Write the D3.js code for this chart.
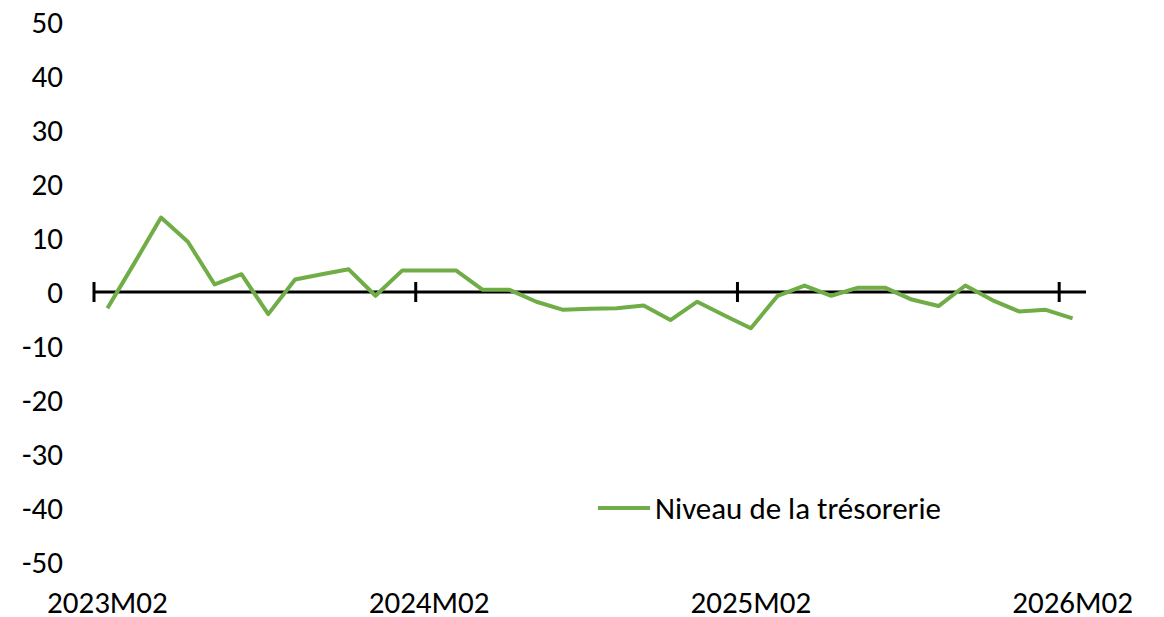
<!DOCTYPE html>
<html>
<head>
<meta charset="utf-8">
<script src="https://cdn.jsdelivr.net/npm/d3@7"></script>
<style>
  body { margin: 0; background: #fff; }
  svg text { font-family: Calibri, Carlito, "Liberation Sans", sans-serif; fill: #000; }
</style>
</head>
<body>
<div id="chart"></div>
<script>
var months = [
    "2023M02","2023M03","2023M04","2023M05","2023M06","2023M07","2023M08","2023M09","2023M10","2023M11","2023M12",
    "2024M01","2024M02","2024M03","2024M04","2024M05","2024M06","2024M07","2024M08","2024M09","2024M10","2024M11","2024M12",
    "2025M01","2025M02","2025M03","2025M04","2025M05","2025M06","2025M07","2025M08","2025M09","2025M10","2025M11","2025M12",
    "2026M01","2026M02"
];
var tresorerie = [
    -3.0, 5.3, 13.8, 9.3, 1.4, 3.3, -4.1, 2.3, 3.3, 4.2, -0.7,
    4.0, 4.0, 4.0, 0.4, 0.4, -1.8, -3.3, -3.1, -3.0, -2.5, -5.2, -1.8,
    -4.3, -6.7, -0.7, 1.2, -0.7, 0.8, 0.8, -1.4, -2.6, 1.2, -1.5, -3.6,
    -3.3, -4.9
];
var yTicks = [50, 40, 30, 20, 10, 0, -10, -20, -30, -40, -50];
var xLabels = ["2023M02", "2024M02", "2025M02", "2026M02"];
var seriesName = "Niveau de la trésorerie";

var width = 1164, height = 617;
var svg = d3.select("#chart").append("svg")
    .attr("width", width)
    .attr("height", height);

var x = d3.scaleBand().domain(months).range([94, 1086]).padding(0);
var y = d3.scaleLinear().domain([-50, 50]).range([562, 22]);
var fontSize = "31px";

// y labels (plain hyphen for negatives, as in the original)
var yAxis = svg.append("g")
    .attr("transform", "translate(63,0)")
    .call(d3.axisLeft(y).tickValues(yTicks).tickSize(0).tickPadding(0)
        .tickFormat(function(d){ return String(d); }));
yAxis.select(".domain").remove();
yAxis.selectAll("text")
    .style("font-size", fontSize)
    .attr("dy", "0.35em");

// x labels (centred on category)
svg.selectAll(".xlab")
    .data(xLabels)
    .enter()
    .append("text")
    .attr("class", "xlab")
    .attr("x", function(d){ return x(d) + x.bandwidth()/2; })
    .attr("y", 613)
    .attr("text-anchor", "middle")
    .style("font-size", fontSize)
    .text(function(d){ return d; });

// zero axis line
svg.append("line")
    .attr("x1", x.range()[0])
    .attr("x2", x.range()[1])
    .attr("y1", y(0))
    .attr("y2", y(0))
    .style("stroke", "#000")
    .style("stroke-width", 3);

// tick marks between categories
svg.selectAll(".tick-mark")
    .data(xLabels)
    .enter()
    .append("line")
    .attr("class", "tick-mark")
    .attr("x1", function(d){ return x(d); })
    .attr("x2", function(d){ return x(d); })
    .attr("y1", y(0) - 10)
    .attr("y2", y(0) + 10)
    .style("stroke", "#000")
    .style("stroke-width", 3);

// series line
var line = d3.line()
    .x(function(d, i){ return x(months[i]) + x.bandwidth()/2; })
    .y(function(d){ return y(d); });

svg.append("path")
    .datum(tresorerie)
    .attr("d", line)
    .style("fill", "none")
    .style("stroke", "#70AD47")
    .style("stroke-width", 4)
    .style("stroke-linejoin", "round");

// legend
var legend = svg.append("g").attr("transform", "translate(598,508)");
legend.append("line")
    .attr("x1", 0).attr("x2", 52)
    .attr("y1", 0).attr("y2", 0)
    .style("stroke", "#70AD47")
    .style("stroke-width", 4);
legend.append("text")
    .attr("x", 57)
    .attr("y", 0)
    .attr("dy", "0.35em")
    .style("font-size", fontSize)
    .text(seriesName);
</script>
</body>
</html>
